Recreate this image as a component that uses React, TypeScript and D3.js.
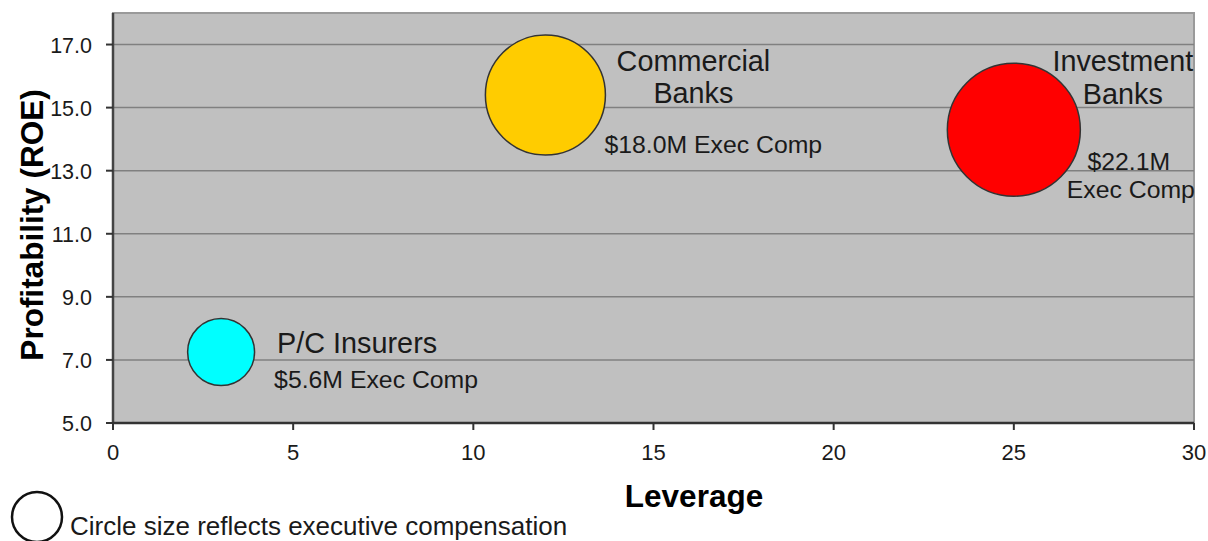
import React from "react";
import * as d3 from "d3";

const sectors = ["P/C Insurers", "Commercial Banks", "Investment Banks"];
const leverage = [3, 12, 25];
const roe = [7.25, 15.4, 14.3];
const execComp = [5.6, 18.0, 22.1];
const colors = ["#00ffff", "#ffcc00", "#ff0000"];
const xTicks = [0, 5, 10, 15, 20, 25, 30];
const yTicks = [5, 7, 9, 11, 13, 15, 17];

const W = 1208;
const H = 541;
const plot = { left: 113, right: 1194, top: 13, bottom: 423 };
const FONT = "'Liberation Sans', Arial, sans-serif";

export default function App() {
  const x = d3.scaleLinear().domain([0, 30]).range([plot.left, plot.right]);
  const y = d3.scaleLinear().domain([5, 18]).range([plot.bottom, plot.top]);
  const r = d3.scaleSqrt().domain([0, 22.1]).range([0, 66.5]);

  const fmtY = d3.format(".1f");

  const labelFor = (i: number) => {
    const cx = x(leverage[i]);
    const cy = y(roe[i]);
    const comp = `$${execComp[i].toFixed(1)}M`;
    if (i === 0) {
      return (
        <g key={"l" + i} fill="#1a1a1a" fontFamily={FONT}>
          <text x={cx + 56} y={cy + 1} fontSize={28.8}>{sectors[i]}</text>
          <text x={cx + 53} y={cy + 36} fontSize={24.8}>{comp} Exec Comp</text>
        </g>
      );
    }
    if (i === 1) {
      const parts = sectors[i].split(" ");
      return (
        <g key={"l" + i} fill="#1a1a1a" fontFamily={FONT}>
          <text x={cx + 148} y={cy - 24} fontSize={28.8} textAnchor="middle">{parts[0]}</text>
          <text x={cx + 148} y={cy + 8} fontSize={28.8} textAnchor="middle">{parts[1]}</text>
          <text x={cx + 59} y={cy + 58} fontSize={24.8}>{comp} Exec Comp</text>
        </g>
      );
    }
    const parts = sectors[i].split(" ");
    return (
      <g key={"l" + i} fill="#1a1a1a" fontFamily={FONT}>
        <text x={cx + 109} y={cy - 59} fontSize={28.8} textAnchor="middle">{parts[0]}</text>
        <text x={cx + 109} y={cy - 26} fontSize={28.8} textAnchor="middle">{parts[1]}</text>
        <text x={cx + 115} y={cy + 40} fontSize={24.8} textAnchor="middle">{comp}</text>
        <text x={cx + 117} y={cy + 68} fontSize={24.8} textAnchor="middle">Exec Comp</text>
      </g>
    );
  };

  return (
    <svg
      width={W}
      height={H}
      style={{ position: "absolute", left: 0, top: 0, background: "#ffffff" }}
    >
      <rect
        x={plot.left}
        y={plot.top}
        width={plot.right - plot.left}
        height={plot.bottom - plot.top}
        fill="#c0c0c0"
        stroke="#9a9a9a"
        strokeWidth={2}
      />
      {yTicks.slice(1).map((t) => (
        <line
          key={"g" + t}
          x1={plot.left}
          x2={plot.right}
          y1={y(t)}
          y2={y(t)}
          stroke="#808080"
          strokeWidth={1.5}
        />
      ))}
      <line x1={plot.left} x2={plot.left} y1={plot.top} y2={plot.bottom} stroke="#444" strokeWidth={2.5} />
      <line x1={plot.left} x2={plot.right} y1={plot.bottom} y2={plot.bottom} stroke="#333" strokeWidth={2.5} />
      {yTicks.map((t) => (
        <g key={"yt" + t}>
          <line x1={plot.left - 7} x2={plot.left} y1={y(t)} y2={y(t)} stroke="#333" strokeWidth={2} />
          <text
            x={plot.left - 21}
            y={y(t) + 8}
            textAnchor="end"
            fontFamily={FONT}
            fontSize={21.5}
            fill="#1a1a1a"
          >
            {fmtY(t)}
          </text>
        </g>
      ))}
      {xTicks.map((t) => (
        <g key={"xt" + t}>
          <line x1={x(t)} x2={x(t)} y1={plot.bottom} y2={plot.bottom + 7} stroke="#333" strokeWidth={2} />
          <text
            x={x(t)}
            y={plot.bottom + 37}
            textAnchor="middle"
            fontFamily={FONT}
            fontSize={22}
            fill="#1a1a1a"
          >
            {t}
          </text>
        </g>
      ))}
      {sectors.map((s, i) => (
        <circle
          key={s}
          cx={x(leverage[i])}
          cy={y(roe[i])}
          r={r(execComp[i])}
          fill={colors[i]}
          stroke="#333"
          strokeWidth={1.5}
        />
      ))}
      {sectors.map((_, i) => labelFor(i))}
      <text
        x={694}
        y={507}
        textAnchor="middle"
        fontFamily={FONT}
        fontWeight="bold"
        fontSize={31.5}
        fill="#000"
      >
        Leverage
      </text>
      <text
        transform="translate(43,225) rotate(-90)"
        textAnchor="middle"
        fontFamily={FONT}
        fontWeight="bold"
        fontSize={31.5}
        fill="#000"
      >
        Profitability (ROE)
      </text>
      <circle cx={37} cy={517} r={25} fill="#fff" stroke="#111" strokeWidth={2.5} />
      <text x={70} y={535} fontFamily={FONT} fontSize={26} fill="#1a1a1a">
        Circle size reflects executive compensation
      </text>
    </svg>
  );
}
